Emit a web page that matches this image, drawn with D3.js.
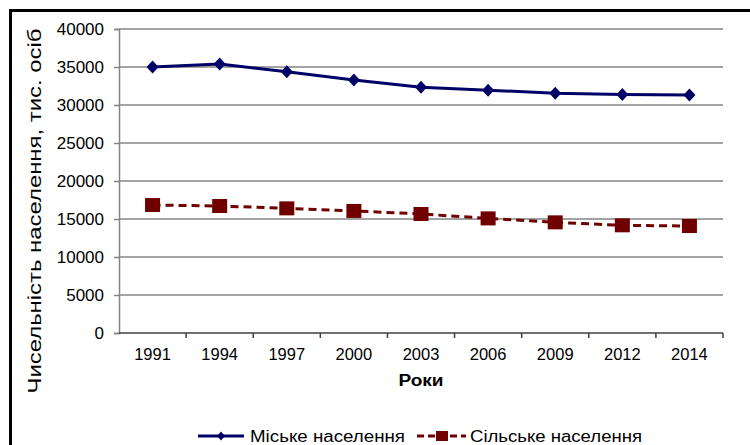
<!DOCTYPE html>
<html>
<head>
<meta charset="utf-8">
<script src="https://cdn.jsdelivr.net/npm/d3@7"></script>
<style>
  body { margin: 0; background: #fff; }
  text { font-family: "Liberation Sans", Arial, sans-serif; fill: #000; }
</style>
</head>
<body>
<div id="chart-area"></div>
<script>

var width = 750,
    height = 445;

// Data
var years = ["1991", "1994", "1997", "2000", "2003", "2006", "2009", "2012", "2014"];
var urban = [35000, 35400, 34380, 33300, 32330, 31950, 31540, 31380, 31300];
var rural = [16840, 16710, 16400, 16060, 15660, 15080, 14560, 14170, 14080];
var yTicks = [0, 5000, 10000, 15000, 20000, 25000, 30000, 35000, 40000];

var margin = {left: 119, right: 27, top: 29, bottom: 112};

var svg = d3.select("#chart-area").append("svg")
    .attr("width", width)
    .attr("height", height);

// Outer frame (top and left edges only are visible)
svg.append("path")
    .attr("d", "M10.5," + height + "V10.5H" + width)
    .attr("fill", "none")
    .attr("stroke", "#000")
    .attr("stroke-width", 3);

var x = d3.scaleBand()
    .domain(years)
    .range([margin.left, width - margin.right]);

var y = d3.scaleLinear()
    .domain([0, 40000])
    .range([height - margin.bottom, margin.top]);

// Gridlines
svg.append("g")
    .selectAll("line")
    .data(yTicks.slice(1))
    .enter().append("line")
    .attr("x1", margin.left)
    .attr("x2", width - margin.right)
    .attr("y1", function(d) { return y(d); })
    .attr("y2", function(d) { return y(d); })
    .attr("stroke", "#858585")
    .attr("stroke-width", 1.5);

// Y axis
var yAxis = svg.append("g")
    .attr("transform", "translate(" + margin.left + ",0)")
    .call(d3.axisLeft(y).tickValues(yTicks).tickSize(5).tickPadding(10).tickFormat(d3.format("d")));
yAxis.select(".domain").attr("stroke", "#858585").attr("stroke-width", 1.5);
yAxis.selectAll(".tick line").attr("stroke", "#858585").attr("stroke-width", 1.5);
yAxis.selectAll("text").style("font-size", "17px");

// X axis with ticks between categories
var xAxisG = svg.append("g")
    .attr("transform", "translate(0," + y(0) + ")");
xAxisG.append("line")
    .attr("x1", margin.left)
    .attr("x2", width - margin.right)
    .attr("stroke", "#404040")
    .attr("stroke-width", 1.5);
xAxisG.selectAll(".tk")
    .data(years.slice(1).concat(["end"]))
    .enter().append("line")
    .attr("class", "tk")
    .attr("x1", function(d, i) { return i < years.length - 1 ? x(d) : width - margin.right; })
    .attr("x2", function(d, i) { return i < years.length - 1 ? x(d) : width - margin.right; })
    .attr("y1", 0)
    .attr("y2", 5)
    .attr("stroke", "#404040")
    .attr("stroke-width", 1.5);
xAxisG.selectAll(".lbl")
    .data(years)
    .enter().append("text")
    .attr("class", "lbl")
    .attr("x", function(d) { return x(d) + x.bandwidth() / 2; })
    .attr("y", 27)
    .attr("text-anchor", "middle")
    .style("font-size", "16.5px")
    .text(function(d) { return d; });

// Axis titles
svg.append("text")
    .attr("x", x("2003") + x.bandwidth() / 2)
    .attr("y", 386)
    .attr("text-anchor", "middle")
    .attr("textLength", 45)
    .attr("lengthAdjust", "spacingAndGlyphs")
    .style("font-size", "16px")
    .style("font-weight", "bold")
    .text("Роки");

svg.append("text")
    .attr("transform", "translate(41,211) rotate(-90)")
    .attr("text-anchor", "middle")
    .attr("textLength", 365)
    .attr("lengthAdjust", "spacingAndGlyphs")
    .style("font-size", "18px")
    .text("Чисельність населення, тис. осіб");

// Lines
var line = d3.line()
    .x(function(d, i) { return x(years[i]) + x.bandwidth() / 2; })
    .y(function(d) { return y(d); });

svg.append("path")
    .datum(urban)
    .attr("d", line)
    .attr("fill", "none")
    .attr("stroke", "#000066")
    .attr("stroke-width", 3);

svg.append("path")
    .datum(rural)
    .attr("d", line)
    .attr("fill", "none")
    .attr("stroke", "#700000")
    .attr("stroke-width", 3)
    .attr("stroke-dasharray", "8,5");

// Markers
svg.selectAll(".diamond")
    .data(urban)
    .enter().append("path")
    .attr("class", "diamond")
    .attr("d", "M0,-6.5L6,0L0,6.5L-6,0Z")
    .attr("transform", function(d, i) {
        return "translate(" + (x(years[i]) + x.bandwidth() / 2) + "," + y(d) + ")";
    })
    .attr("fill", "#000066");

svg.selectAll(".square")
    .data(rural)
    .enter().append("rect")
    .attr("class", "square")
    .attr("x", function(d, i) { return x(years[i]) + x.bandwidth() / 2 - 7.5; })
    .attr("y", function(d) { return y(d) - 7; })
    .attr("width", 15)
    .attr("height", 14)
    .attr("fill", "#700000");

// Legend
var legend = svg.append("g").attr("transform", "translate(0,436)");
legend.append("line")
    .attr("x1", 198).attr("x2", 244)
    .attr("stroke", "#000066").attr("stroke-width", 3);
legend.append("path")
    .attr("d", "M0,-4.5L4,0L0,4.5L-4,0Z")
    .attr("transform", "translate(221,0)")
    .attr("fill", "#000066");
legend.append("text")
    .attr("x", 250).attr("y", 6)
    .attr("textLength", 155)
    .attr("lengthAdjust", "spacingAndGlyphs")
    .style("font-size", "16px")
    .text("Міське населення");

legend.append("line")
    .attr("x1", 417).attr("x2", 466)
    .attr("stroke", "#700000").attr("stroke-width", 3)
    .attr("stroke-dasharray", "7,4");
legend.append("rect")
    .attr("x", 436).attr("y", -5)
    .attr("width", 12).attr("height", 10)
    .attr("fill", "#700000");
legend.append("text")
    .attr("x", 470).attr("y", 6)
    .attr("textLength", 172)
    .attr("lengthAdjust", "spacingAndGlyphs")
    .style("font-size", "16px")
    .text("Сільське населення");

</script>
</body>
</html>
